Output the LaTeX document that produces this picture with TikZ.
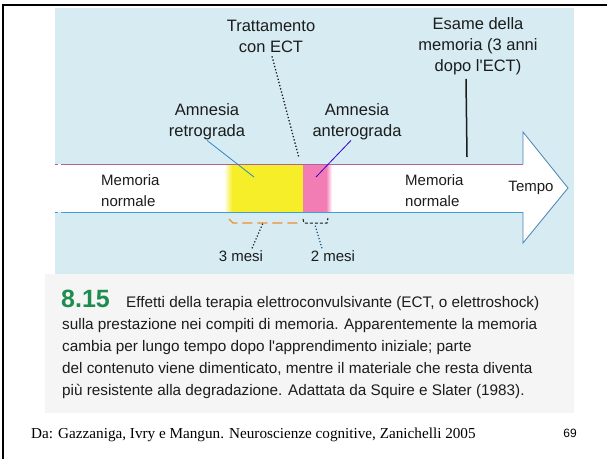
\documentclass[tikz,border=0pt]{standalone}
\usepackage{fontspec}
\setmainfont{Liberation Serif}
\newfontfamily\labelfont{Liberation Sans}
\usetikzlibrary{positioning}

\definecolor{panelblue}{HTML}{D6EBF2}
\definecolor{capgray}{HTML}{F5F5F5}
\definecolor{amyellow}{HTML}{F7EE2A}
\definecolor{ampink}{HTML}{F27DB4}
\definecolor{edgetop}{HTML}{B0609A}
\definecolor{edgebot}{HTML}{3C9EDC}
\definecolor{leadblue}{HTML}{2F86C8}
\definecolor{bracketorange}{HTML}{F0902A}
\definecolor{figgreen}{HTML}{1E8C4E}
\definecolor{inkdark}{HTML}{1C1C1C}

\tikzset{
    lbl/.style={font=\labelfont\fontsize{15}{21}\selectfont, text=inkdark, align=center, inner sep=0pt},
    toplbl/.style={lbl, font=\labelfont\fontsize{16.5}{21}\selectfont},
    capline/.style={font=\labelfont\fontsize{15.3}{22}\selectfont, text=inkdark, anchor=base west, inner sep=0pt},
    leader/.style={leadblue, line width=0.8pt},
}

\begin{document}
\begin{tikzpicture}[x=1pt,y=-1pt]
                \useasboundingbox (0,0) rectangle (607,459);
                \fill[white] (0,0) rectangle (607,459);
                \draw[line width=2.5pt] (3,459) -- (3,5) -- (607,5);
                \fill[panelblue] (55,8) rectangle (574,274);
                \fill[capgray] (45,274) rectangle (574,413);
                \fill[white] (55,164) -- (523,164) -- (523,132) -- (568,188) -- (523,243) -- (523,212) -- (55,212) -- cycle;
                \shade[left color=white, right color=amyellow] (224,164) rectangle (232,212);
                \fill[amyellow] (232,164) rectangle (303,212);
                \fill[ampink] (303,164) rectangle (326,212);
                \shade[left color=ampink, right color=white] (326,164) rectangle (332,212);
                \draw[edgetop, line width=1pt] (62,164) -- (523,164);
                \draw[edgetop, line width=1pt, dashed] (55,164) -- (62,164);
                \draw[edgebot, line width=1pt] (62,212) -- (523,212);
                \draw[edgebot, line width=1pt, dashed] (55,212) -- (62,212);
                \draw[leadblue!70!gray, line width=0.8pt] (523,164) -- (523,132) -- (568,188) -- (523,243) -- (523,212);
                \node[toplbl] (ect) at (271,36) {Trattamento\\con ECT};
                \node[toplbl] (esame) at (478,46) {Esame della\\memoria (3 anni\\dopo l'ECT)};
                \node[toplbl] (retro) at (207,122) {Amnesia\\retrograda};
                \node[toplbl] (antero) at (357,122) {Amnesia\\anterograda};
                \node[lbl, align=left, anchor=west] (normL) at (101,191) {Memoria\\normale};
                \node[lbl, align=left, anchor=west] (normR) at (405,191) {Memoria\\normale};
                \node[lbl] (tempo) at (531,188) {Tempo};
                \node[lbl] (tre) at (241,256) {3 mesi};
                \node[lbl] (due) at (333,256) {2 mesi};
                \coordinate (ectend) at (299,158);
                \coordinate (esamend) at (467,157);
                \coordinate (retroend) at (254,177);
                \coordinate (anteroend) at (316,177);
                \coordinate (trebr) at (263,223);
                \coordinate (duebr) at (315,225);
                \draw[bracketorange, line width=1.2pt, dash pattern=on 10pt off 5pt] (229,219) -- (233,223) -- (297,223) -- (300,219);
                \draw[inkdark, line width=1pt, densely dashed] (303,219) -- (304,223) -- (327,223) -- (328,218);
                \draw[inkdark, line width=1.3pt, dotted, shorten <=4pt] (ect.south) -- (ectend);
                \draw[inkdark, line width=1.5pt] ([xshift=-12pt,yshift=-4pt]esame.south) -- (esamend);
                \draw[leader] (retro.south) -- (retroend);
                \draw[leader, blue!60!violet] ([xshift=-6pt]antero.south) -- (anteroend);
                \draw[inkdark, line width=1.2pt, dotted] ([xshift=11pt,yshift=2pt]tre.north) -- (trebr);
                \draw[leadblue!60!black, line width=1.2pt, dotted] ([xshift=-11pt,yshift=2pt]due.north) -- (duebr);
                \node[font=\labelfont\bfseries\fontsize{25}{25}\selectfont, text=figgreen, anchor=base west, inner sep=0pt] (fignum) at (61,307) {8.15};
                \node[capline] (cap1) at (126,307) {Effetti della terapia elettroconvulsivante (ECT, o elettroshock)};
                \node[capline] (cap2) at (62,329) {sulla prestazione nei compiti di memoria. Apparentemente la memoria};
                \node[capline] (cap3) at (62,351) {cambia per lungo tempo dopo l'apprendimento iniziale; parte};
                \node[capline] (cap4) at (62,373) {del contenuto viene dimenticato, mentre il materiale che resta diventa};
                \node[capline] (cap5) at (62,395) {più resistente alla degradazione. Adattata da Squire e Slater (1983).};
                \node[font=\fontsize{15.2}{17}\selectfont, anchor=base west, inner sep=0pt] (source) at (31,438) {Da: Gazzaniga, Ivry e Mangun. Neuroscienze cognitive, Zanichelli 2005};
                \node[font=\labelfont\fontsize{12}{14}\selectfont, anchor=base east, inner sep=0pt] (page) at (577,437) {69};
            \end{tikzpicture}
\end{document}
